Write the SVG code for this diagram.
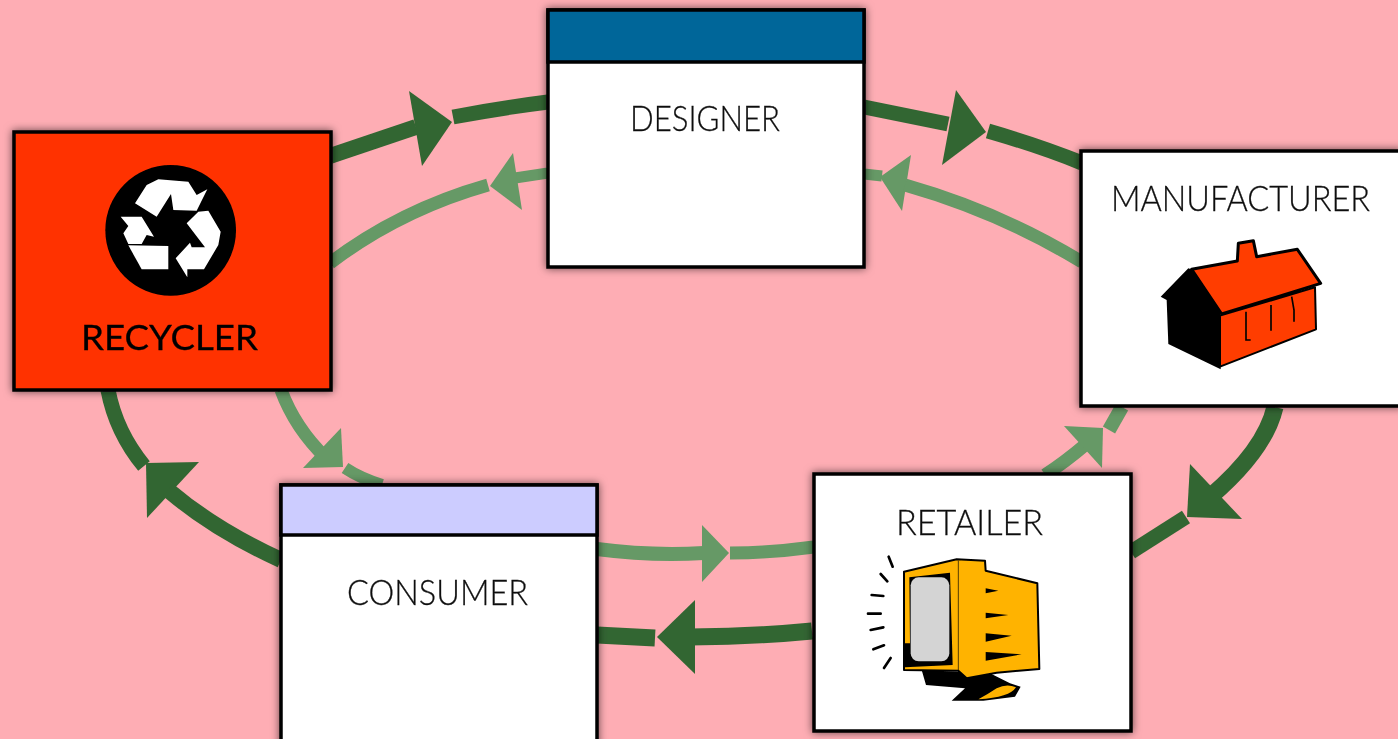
<svg xmlns="http://www.w3.org/2000/svg" width="1398" height="739" viewBox="0 0 1398 739">
<style>
.box{stroke:#000;stroke-width:3.5;fill:#fff}
.lbl{font-family:"Lato","Liberation Sans",sans-serif;font-size:35px;font-weight:300;fill:#111;stroke:#111;stroke-width:0.3}
.dk{stroke:#336633;fill:none;stroke-width:15}
.lt{stroke:#669966;fill:none;stroke-width:12}
.dh{fill:#336633}
.lh{fill:#669966}
.tick{stroke:#000;stroke-width:8;stroke-linecap:round;fill:none}
</style>
<defs>
<filter id="sh" x="-10%" y="-10%" width="120%" height="120%"><feDropShadow dx="0" dy="0" stdDeviation="4.5" flood-color="#000" flood-opacity="0.6"/></filter>
<filter id="soft" filterUnits="userSpaceOnUse" x="0" y="0" width="1398" height="739"><feGaussianBlur stdDeviation="0.7"/></filter>
</defs>
<rect width="1398" height="739" fill="#feadb4"/>
<g filter="url(#soft)">
<g id="connectors">
<path class="dk" style="stroke-width:16" d="M330 156L416 127"/>
<polygon class="dh" points="409,91 452,122 422,166"/>
<path class="dk" style="stroke-width:15" d="M453 117Q500 108 548 102"/>
<path class="dk" style="stroke-width:15" d="M864 107L948 124"/>
<polygon class="dh" points="956,90 986,132 942,165"/>
<path class="dk" style="stroke-width:15" d="M988 131Q1040 146 1082 163"/>
<path class="lt" style="stroke-width:11" d="M548 173L515 178"/>
<polygon class="lh" points="513,153 490,186 522,210"/>
<path class="lt" style="stroke-width:13" d="M488 185Q400 210 330 263"/>
<path class="lt" style="stroke-width:11" d="M864 174L882 176"/>
<polygon class="lh" points="911,155 880,177 902,211"/>
<path class="lt" style="stroke-width:13" d="M905 185Q1000 212 1082 262"/>
<path class="dk" d="M108 390Q116 432 144 466"/>
<polygon class="dh" points="146,463 199,462 147,518"/>
<path class="dk" style="stroke-width:16" d="M168 490Q215 530 281 560"/>
<path class="lt" style="stroke-width:13" d="M281 390Q295 428 326 458"/>
<polygon class="lh" points="341,428 303,468 343,467"/>
<path class="lt" d="M345 468Q360 478 382 485"/>
<path class="lt" style="stroke-width:13" d="M1045 475Q1065 462 1085 445"/>
<polygon class="lh" points="1064,426 1103,428 1102,468"/>
<path class="lt" style="stroke-width:14" d="M1109 430L1122 407"/>
<path class="dk" style="stroke-width:17" d="M1275 407Q1265 450 1210 497"/>
<polygon class="dh" points="1190,464 1242,519 1187,517"/>
<path class="dk" style="stroke-width:15" d="M1186 517L1131 552"/>
<path class="lt" style="stroke-width:14" d="M597 549Q650 556 704 553"/>
<polygon class="lh" points="702,525 729,553 702,582"/>
<path class="lt" style="stroke-width:13" d="M730 553Q770 553 814 547"/>
<path class="dk" style="stroke-width:17" d="M690 637Q750 637 812 631"/>
<polygon class="dh" points="657,637 695,600 695,674"/>
<path class="dk" style="stroke-width:17" d="M597 635L655 638"/>
</g>
<g id="recycler">
<rect x="14" y="132" width="317" height="258" class="box" style="fill:#ff3300" filter="url(#sh)"/>
<g transform="translate(0,120) scale(0.33333)">
<circle cx="512" cy="331" r="196" fill="#000"/>
<g fill="#fff">
<polygon points="405,250 440,195 475,178 565,185 590,225 622,208 590,272 520,270 513,222 470,290"/>
<polygon points="595,275 625,272 662,335 655,375 612,448 562,448 562,472 527,415 570,368 575,382 615,382 560,310"/>
<polygon points="362,290 425,290 462,350 440,345 425,372 385,372 370,340 385,318"/>
<polygon points="385,376 505,378 505,448 425,448"/>
</g>
</g>
<text x="81" y="350" class="lbl" style="font-weight:400;fill:#000;stroke:#000;stroke-width:0.3" textLength="177" lengthAdjust="spacingAndGlyphs">RECYCLER</text>
</g>
<g id="designer">
<rect x="548" y="10" width="316" height="257" class="box" filter="url(#sh)"/>
<rect x="548" y="10" width="316" height="52" fill="#006699" stroke="#000" stroke-width="3.5"/>
<text x="630" y="131" class="lbl" textLength="150" lengthAdjust="spacingAndGlyphs">DESIGNER</text>
</g>
<g id="manufacturer">
<rect x="1081" y="151" width="320" height="255" class="box" filter="url(#sh)"/>
<text x="1111" y="211" class="lbl" textLength="259" lengthAdjust="spacingAndGlyphs">MANUFACTURER</text>
<g transform="translate(1070,140) scale(0.33333)">
<polygon points="272,470 355,385 375,392 452,520 452,688 295,612 290,480" fill="#000"/>
<polygon points="365,388 502,363 505,310 550,302 560,350 682,328 752,430 455,522" fill="#ff3d00" stroke="#000" stroke-width="9" stroke-linejoin="round"/>
<polygon points="450,527 735,442 738,568 450,680" fill="#ff3d00" stroke="#000" stroke-width="6" stroke-linejoin="round"/>
<path d="M528 515V600H542M603 495V572M665 470L672 510V545" fill="none" stroke="#000" stroke-width="5"/>
</g>
</g>
<g id="retailer">
<rect x="814" y="474" width="317" height="257" class="box" filter="url(#sh)"/>
<text x="896" y="535" class="lbl" textLength="147" lengthAdjust="spacingAndGlyphs">RETAILER</text>
<g transform="translate(810,470) scale(0.33333)">
<path d="M335 600L348 645L465 655L425 692L520 692L615 680L632 650L600 640L540 610Z" fill="#000"/>
<path d="M505 688Q600 682 618 652Q590 640 560 655Q530 675 505 688Z" fill="#ffb300"/>
<polygon points="282,305 440,268 525,272 527,302 682,340 688,597 560,608 470,625 445,602 282,600" fill="#ffb300" stroke="#000" stroke-width="6" stroke-linejoin="round"/>
<polygon points="298,322 420,308 428,585 285,592 285,520 300,520" fill="#000"/>
<rect x="302" y="322" width="116" height="252" rx="24" fill="#d4d4d4"/>
<path d="M445 272V600" stroke="#000" stroke-width="2" fill="none"/>
<g fill="#000">
<polygon points="527,355 565,362 527,370"/>
<polygon points="527,428 595,435 527,445"/>
<polygon points="527,490 605,497 527,515"/>
<polygon points="527,546 635,553 527,572"/>
</g>
<path class="tick" d="M236 260L248 290M212 312L232 334M185 375L220 378M174 431L212 431M182 480L220 472M190 538L222 526M222 594L242 564"/>
</g>
</g>
<g id="consumer">
<rect x="281" y="485" width="316" height="270" class="box" filter="url(#sh)"/>
<rect x="281" y="485" width="316" height="50" fill="#ccccff" stroke="#000" stroke-width="3.5"/>
<text x="347" y="605" class="lbl" textLength="181" lengthAdjust="spacingAndGlyphs">CONSUMER</text>
</g>
</g>
</svg>
